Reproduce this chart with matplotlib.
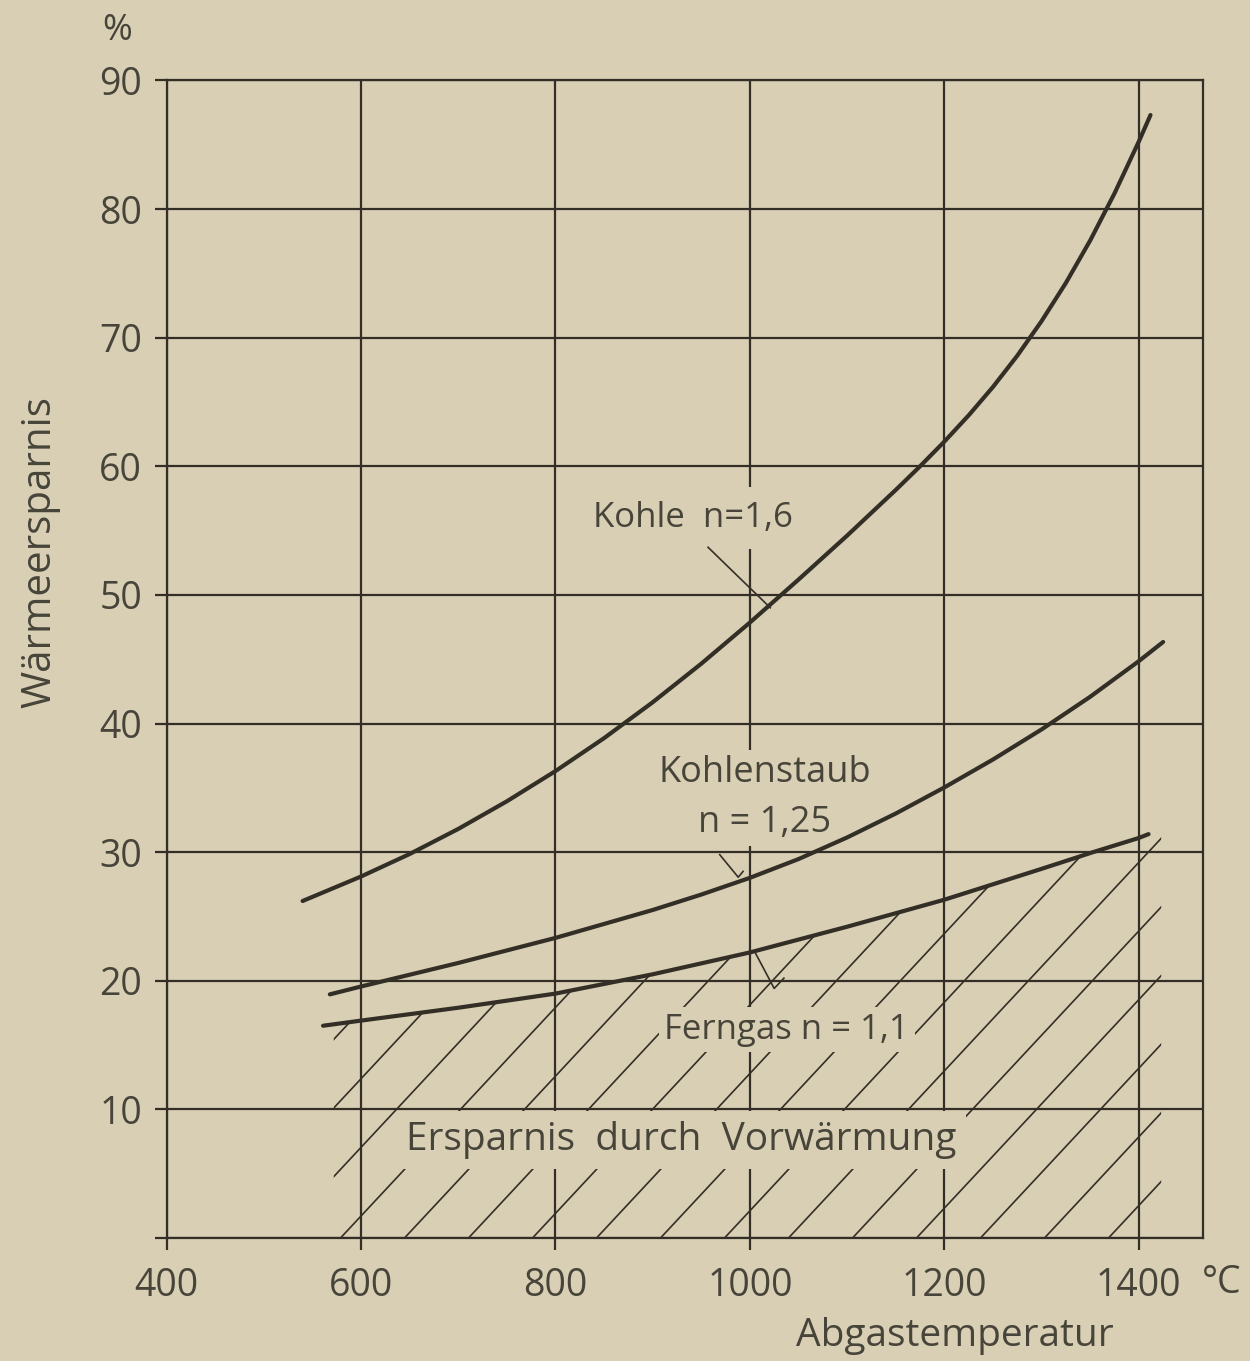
import numpy as np
import matplotlib
matplotlib.use("Agg")
import matplotlib.pyplot as plt
from matplotlib.collections import LineCollection
from matplotlib.patches import Polygon

plt.rcParams['font.family'] = ['Open Sans', 'DejaVu Sans']

# Abgastemperatur in °C / Wärmeersparnis in %
kohle_T = [540, 600, 650, 700, 750, 800, 850, 900, 950, 1000, 1050, 1100, 1150, 1175, 1200,
           1225, 1250, 1275, 1300, 1325, 1350, 1375, 1400, 1412]
kohle_y = [26.2, 28.1, 29.85, 31.8, 33.95, 36.3, 38.86, 41.65, 44.65, 47.85, 51.19, 54.61,
           58.16, 60.0, 61.92, 63.96, 66.17, 68.6, 71.29, 74.26, 77.56, 81.22, 85.25, 87.31]

staub_T = [568, 600, 700, 800, 900, 950, 1000, 1050, 1100, 1150, 1200, 1250, 1300, 1350,
           1400, 1425]
staub_y = [18.94, 19.55, 21.38, 23.33, 25.5, 26.7, 28.0, 29.46, 31.14, 33.0, 35.03, 37.2,
           39.54, 42.08, 44.85, 46.34]

gas_T = [561, 600, 700, 800, 900, 1000, 1100, 1200, 1300, 1353, 1400, 1410]
gas_y = [16.5, 16.9, 17.9, 19.0, 20.5, 22.2, 24.2, 26.3, 28.7, 30.0, 31.1, 31.4]

x_ticks = [400, 600, 800, 1000, 1200, 1400]
y_ticks = [0, 10, 20, 30, 40, 50, 60, 70, 80, 90]
y_ticklabels = [''] + [str(v) for v in y_ticks[1:]]

bg = '#d9cfb4'
ink = '#332f26'
txt = '#47443a'

fig = plt.figure(figsize=(12.5, 13.61), dpi=100, facecolor=bg)
ax = fig.add_axes([0.1332, 0.0904, 0.8292, 0.8505], facecolor=bg)
ax.set_xlim(400, 1466)
ax.set_ylim(0, 90)

ax.set_xticks(x_ticks)
ax.set_xticklabels([str(v) for v in x_ticks])
ax.set_yticks(y_ticks)
ax.set_yticklabels(y_ticklabels)
ax.tick_params(direction='out', length=8.6, width=1.6, color=ink,
               labelcolor=txt, labelsize=27)
ax.tick_params(axis='x', pad=12)
ax.tick_params(axis='y', pad=9)
ax.grid(True, color=ink, lw=1.6, zorder=1)
ax.set_axisbelow(True)
for s in ax.spines.values():
    s.set_color(ink)
    s.set_linewidth(1.6)

# Schraffur unter der Ferngas-Kurve
hatch_left, hatch_right = 572, 1423
gT = np.array(gas_T, dtype=float)
gy = np.array(gas_y, dtype=float)
inside = gT > hatch_left
verts = [(hatch_left, 0), (hatch_left, np.interp(hatch_left, gT, gy))]
verts += list(zip(gT[inside], gy[inside]))
verts += [(hatch_right, gy[-1]), (hatch_right, 0)]
region = Polygon(verts, closed=True, facecolor='none', edgecolor='none',
                 transform=ax.transData)
ax.add_patch(region)

p0 = ax.transData.transform((400, 0))
p1 = ax.transData.transform((1400, 90))
px_T = (p1[0] - p0[0]) / 1000
px_y = (p1[1] - p0[1]) / 90
angle = np.radians(47)
run = 40 * px_y / np.tan(angle) / px_T   # °C covered while rising 40 %
step = 64 / px_T
segs = [[(t0, 0), (t0 + run, 40)] for t0 in np.arange(579 - 6 * step, hatch_right + step, step)]
hatch = LineCollection(segs, colors=ink, linewidths=1.2, zorder=1.5)
hatch.set_clip_path(region)
ax.add_collection(hatch)

# Kurven
for T, y in [(kohle_T, kohle_y), (staub_T, staub_y), (gas_T, gas_y)]:
    ax.plot(T, y, color=ink, lw=3.0, solid_capstyle='round', solid_joinstyle='round',
            zorder=3)

ax.text(839, 56.0, 'Kohle  n=1,6', fontsize=25, color=txt, va='center', ha='left',
        bbox=dict(facecolor=bg, edgecolor='none', pad=10), zorder=2.5)
ax.text(1015, 34.2, 'Kohlenstaub\nn = 1,25', fontsize=26, color=txt, va='center',
        ha='center', multialignment='center', linespacing=1.5,
        bbox=dict(facecolor=bg, edgecolor='none', pad=4), zorder=2.5)
ax.text(912, 16.2, 'Ferngas n = 1,1', fontsize=25, color=txt, va='center', ha='left',
        bbox=dict(facecolor=bg, edgecolor='none', pad=4), zorder=2.5)
ax.text(646, 7.6, 'Ersparnis  durch  Vorwärmung', fontsize=28, color=txt,
        va='center', ha='left', bbox=dict(facecolor=bg, edgecolor='none', pad=7),
        zorder=2.5)

# Hinweislinien
ax.plot([957, 1021], [53.7, 49.0], color=ink, lw=1.2, zorder=3)
ax.plot([969, 988, 993], [29.8, 28.05, 28.5], color=ink, lw=1.2, zorder=3)
ax.plot([1005, 1025, 1035], [22.25, 19.4, 20.2], color=ink, lw=1.2, zorder=3)

fig.text(117 / 1250, 1 - 31 / 1361, '%', fontsize=26, color=txt, ha='center', va='center')
fig.text(1222 / 1250, 1 - 1283 / 1361, '°C', fontsize=27, color=txt, ha='center', va='center')
fig.text(955 / 1250, 1 - 1336 / 1361, 'Abgastemperatur', fontsize=28, color=txt,
         ha='center', va='center')
fig.text(40 / 1250, 1 - 552 / 1361, 'Wärmeersparnis', fontsize=29, color=txt,
         ha='center', va='center', rotation=90)

fig.savefig('out.png', dpi=100, facecolor=bg)
